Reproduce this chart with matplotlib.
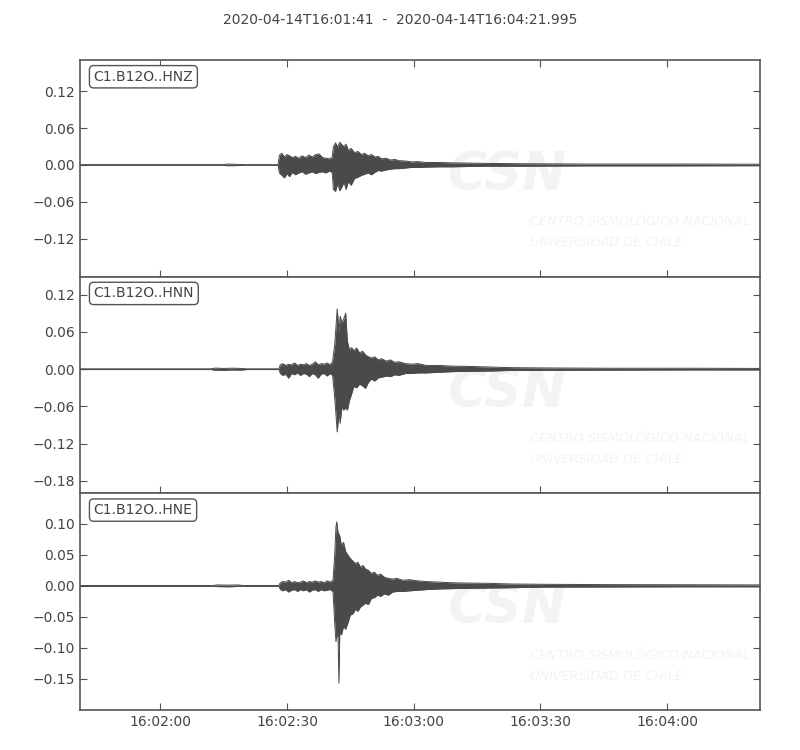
import datetime
import numpy as np
import matplotlib
matplotlib.use("Agg")
import matplotlib.pyplot as plt
import matplotlib.dates as mdates

# envelope of each trace
# times in seconds after 2020-04-14T16:01:41
hnz_t = [0, 34, 35, 37, 39, 46.9, 47.2, 47.8, 48.4, 49.0, 49.6, 50.3, 51.0, 51.8,
         52.6, 53.4, 54.2, 55.0, 55.8, 56.6, 57.4, 58.2, 59.0, 59.7, 60.0, 60.5,
         61.0, 61.5, 62.0, 62.5, 63.0, 63.5, 64.2, 65.0, 65.8, 66.6, 67.4, 68.2,
         69.0, 69.8, 70.6, 71.4, 72.5, 73.5, 74.5, 75.5, 77, 78.5, 80, 82, 85,
         88, 92, 97, 105, 120, 140, 160.995]
hnz_top = [0.0005, 0.0005, 0.0015, 0.001, 0.0005, 0.0005, 0.016, 0.019, 0.013,
           0.017, 0.015, 0.012, 0.014, 0.011, 0.015, 0.012, 0.016, 0.013, 0.017,
           0.018, 0.012, 0.011, 0.010, 0.012, 0.030, 0.036, 0.029, 0.037, 0.033,
           0.030, 0.034, 0.024, 0.027, 0.020, 0.022, 0.017, 0.019, 0.015, 0.017,
           0.013, 0.014, 0.010, 0.011, 0.008, 0.009, 0.007, 0.0065, 0.005, 0.0055,
           0.004, 0.004, 0.0035, 0.003, 0.0025, 0.002, 0.0015, 0.0015, 0.0012]
hnz_bot = [-0.0005, -0.0005, -0.0012, -0.001, -0.0005, -0.0005, -0.013, -0.017,
           -0.021, -0.014, -0.019, -0.012, -0.016, -0.013, -0.011, -0.015, -0.013,
           -0.011, -0.014, -0.012, -0.011, -0.013, -0.010, -0.012, -0.040, -0.043,
           -0.030, -0.042, -0.036, -0.028, -0.040, -0.027, -0.033, -0.022, -0.020,
           -0.017, -0.015, -0.013, -0.016, -0.012, -0.009, -0.010, -0.008, -0.007,
           -0.006, -0.006, -0.005, -0.004, -0.004, -0.0035, -0.003, -0.003,
           -0.0025, -0.002, -0.002, -0.0015, -0.0015, -0.0012]

hnn_t = [0, 31, 32, 34, 36, 38, 39.5, 47.1, 47.4, 48.0, 48.7, 49.4, 50.1, 50.8,
         51.5, 52.2, 52.9, 53.6, 54.3, 55.0, 55.7, 56.4, 57.1, 57.8, 58.5, 59.2,
         59.8, 60.3, 60.9, 61.3, 61.6, 62.0, 62.4, 62.9, 63.3, 63.8, 64.3, 64.8,
         65.5, 66.2, 66.9, 67.6, 68.3, 69.0, 69.8, 70.6, 71.4, 72.5, 73.5, 74.5,
         75.5, 77, 78.5, 80, 82, 85, 88, 92, 97, 102, 110, 125, 145, 160.995]
hnn_top = [0.0006, 0.0006, 0.0018, 0.0012, 0.0016, 0.0013, 0.0006, 0.0006, 0.007,
           0.009, 0.006, 0.008, 0.007, 0.010, 0.006, 0.008, 0.007, 0.009, 0.006,
           0.008, 0.012, 0.007, 0.009, 0.008, 0.010, 0.007, 0.012, 0.039, 0.097,
           0.060, 0.085, 0.075, 0.080, 0.090, 0.045, 0.031, 0.035, 0.030, 0.034,
           0.026, 0.029, 0.023, 0.020, 0.018, 0.020, 0.015, 0.017, 0.013, 0.015,
           0.011, 0.012, 0.009, 0.008, 0.009, 0.006, 0.006, 0.005, 0.0045, 0.0035,
           0.0025, 0.002, 0.0015, 0.0015, 0.0012]
hnn_bot = [-0.0006, -0.0006, -0.0015, -0.0018, -0.0012, -0.0015, -0.0006, -0.0006,
           -0.0065, -0.010, -0.008, -0.0145, -0.007, -0.009, -0.006, -0.010,
           -0.007, -0.008, -0.012, -0.007, -0.009, -0.0145, -0.008, -0.007,
           -0.011, -0.007, -0.010, -0.045, -0.101, -0.070, -0.087, -0.060, -0.066,
           -0.062, -0.066, -0.050, -0.040, -0.028, -0.030, -0.024, -0.027, -0.031,
           -0.021, -0.016, -0.019, -0.014, -0.013, -0.011, -0.012, -0.009, -0.010,
           -0.007, -0.007, -0.006, -0.006, -0.005, -0.004, -0.0035, -0.003, -0.002,
           -0.0018, -0.0015, -0.0012, -0.0012]

hne_t = [0, 31.5, 32.5, 35, 37.5, 38.5, 47.1, 47.4, 48.0, 48.7, 49.4, 50.1, 50.8,
         51.5, 52.2, 52.9, 53.6, 54.3, 55.0, 55.7, 56.4, 57.1, 57.8, 58.5, 59.2,
         59.9, 60.3, 60.6, 60.8, 61.1, 61.3, 61.5, 61.9, 62.4, 62.9, 63.5, 64.0,
         64.6, 65.2, 65.8, 66.4, 67.0, 67.6, 68.3, 69.0, 69.7, 70.4, 71.2, 72.0,
         73.0, 74.0, 75.0, 76.5, 78, 80, 82, 85, 88, 92, 97, 102, 110, 125, 145,
         160.995]
hne_top = [0.0006, 0.0006, 0.0015, 0.0012, 0.0015, 0.0006, 0.0006, 0.005, 0.007,
           0.006, 0.009, 0.005, 0.007, 0.005, 0.006, 0.008, 0.005, 0.007, 0.006,
           0.008, 0.006, 0.007, 0.005, 0.008, 0.006, 0.009, 0.050, 0.095, 0.103,
           0.085, 0.084, 0.080, 0.065, 0.070, 0.055, 0.049, 0.044, 0.040, 0.036,
           0.038, 0.030, 0.033, 0.027, 0.025, 0.020, 0.022, 0.017, 0.019, 0.014,
           0.012, 0.011, 0.012, 0.009, 0.010, 0.008, 0.007, 0.006, 0.005, 0.0045,
           0.004, 0.003, 0.0025, 0.002, 0.0018, 0.0015]
hne_bot = [-0.0006, -0.0006, -0.0012, -0.0015, -0.001, -0.0006, -0.0006, -0.0055,
           -0.008, -0.006, -0.010, -0.007, -0.006, -0.009, -0.006, -0.008, -0.006,
           -0.010, -0.007, -0.006, -0.009, -0.006, -0.008, -0.007, -0.006, -0.009,
           -0.060, -0.090, -0.075, -0.085, -0.157, -0.075, -0.079, -0.065, -0.070,
           -0.058, -0.047, -0.045, -0.038, -0.041, -0.034, -0.031, -0.028, -0.030,
           -0.020, -0.019, -0.015, -0.017, -0.013, -0.015, -0.010, -0.009, -0.009,
           -0.008, -0.007, -0.006, -0.005, -0.0045, -0.004, -0.0035, -0.003,
           -0.002, -0.0018, -0.0015, -0.0015]

labels = ['C1.B12O..HNZ', 'C1.B12O..HNN', 'C1.B12O..HNE']
ylims = [(-0.182, 0.171), (-0.200, 0.149), (-0.200, 0.149)]
yticks = [[-0.12, -0.06, 0.0, 0.06, 0.12],
          [-0.18, -0.12, -0.06, 0.0, 0.06, 0.12],
          [-0.15, -0.10, -0.05, 0.0, 0.05, 0.10]]

start = datetime.datetime(2020, 4, 14, 16, 1, 41)
duration = 160.995
title = '2020-04-14T16:01:41  -  2020-04-14T16:04:21.995'

trace_col = '#4a4a4a'
text_col = '#444444'
edge_col = '#555555'
wm_col = '#f3f3f3'


def to_num(secs):
    return np.array([mdates.date2num(start + datetime.timedelta(seconds=s))
                     for s in secs])


plt.rcParams['font.family'] = 'DejaVu Sans'
plt.rcParams['font.size'] = 10

fig, axes = plt.subplots(3, 1, figsize=(8, 7.5), dpi=100)
fig.subplots_adjust(left=0.1, right=0.95, top=0.92, bottom=0.0533, hspace=0)

traces = [(hnz_t, hnz_top, hnz_bot), (hnn_t, hnn_top, hnn_bot),
          (hne_t, hne_top, hne_bot)]
xlim = to_num([0, duration])

for i, ax in enumerate(axes):
    t, top, bot = traces[i]
    x = to_num(t)

    # faint CSN watermark
    ax.text(0.628, 0.47, 'CSN', transform=ax.transAxes, fontsize=38,
            fontweight='bold', fontstyle='italic', color=wm_col,
            ha='center', va='center', zorder=0)
    ax.text(0.662, 0.253, 'CENTRO SISMOLÓGICO NACIONAL', transform=ax.transAxes,
            fontsize=9.3, fontstyle='italic', color=wm_col,
            ha='left', va='center', zorder=0)
    ax.text(0.662, 0.157, 'UNIVERSIDAD DE CHILE', transform=ax.transAxes,
            fontsize=9.3, fontstyle='italic', color=wm_col,
            ha='left', va='center', zorder=0)

    ax.fill_between(x, bot, top, color=trace_col, lw=0, zorder=2)
    ax.plot(x, top, color=trace_col, lw=0.7, zorder=2)
    ax.plot(x, bot, color=trace_col, lw=0.7, zorder=2)

    ax.set_xlim(xlim[0], xlim[1])
    ax.set_ylim(*ylims[i])
    ax.set_yticks(yticks[i])
    ax.set_yticklabels([('%.2f' % v).replace('-', '\u2212') for v in yticks[i]])

    ax.xaxis.set_major_locator(mdates.SecondLocator(bysecond=[0, 30]))
    ax.xaxis.set_major_formatter(mdates.DateFormatter('%H:%M:%S'))
    if i < 2:
        ax.tick_params(labelbottom=False)

    ax.text(0.02, 0.955, labels[i], transform=ax.transAxes, fontsize=10,
            ha='left', va='top', color=text_col, zorder=5,
            bbox=dict(boxstyle='round,pad=0.3', fc='w', ec=edge_col, lw=1))

    for s in ax.spines.values():
        s.set_color(edge_col)
        s.set_linewidth(1.2)
    ax.tick_params(direction='in', length=5, width=0.8, right=True,
                   top=(i == 0), labelsize=10, color=edge_col,
                   labelcolor=text_col)

fig.suptitle(title, fontsize=10, y=0.973, va='center', color=text_col)

fig.savefig('out.png', dpi=100)
